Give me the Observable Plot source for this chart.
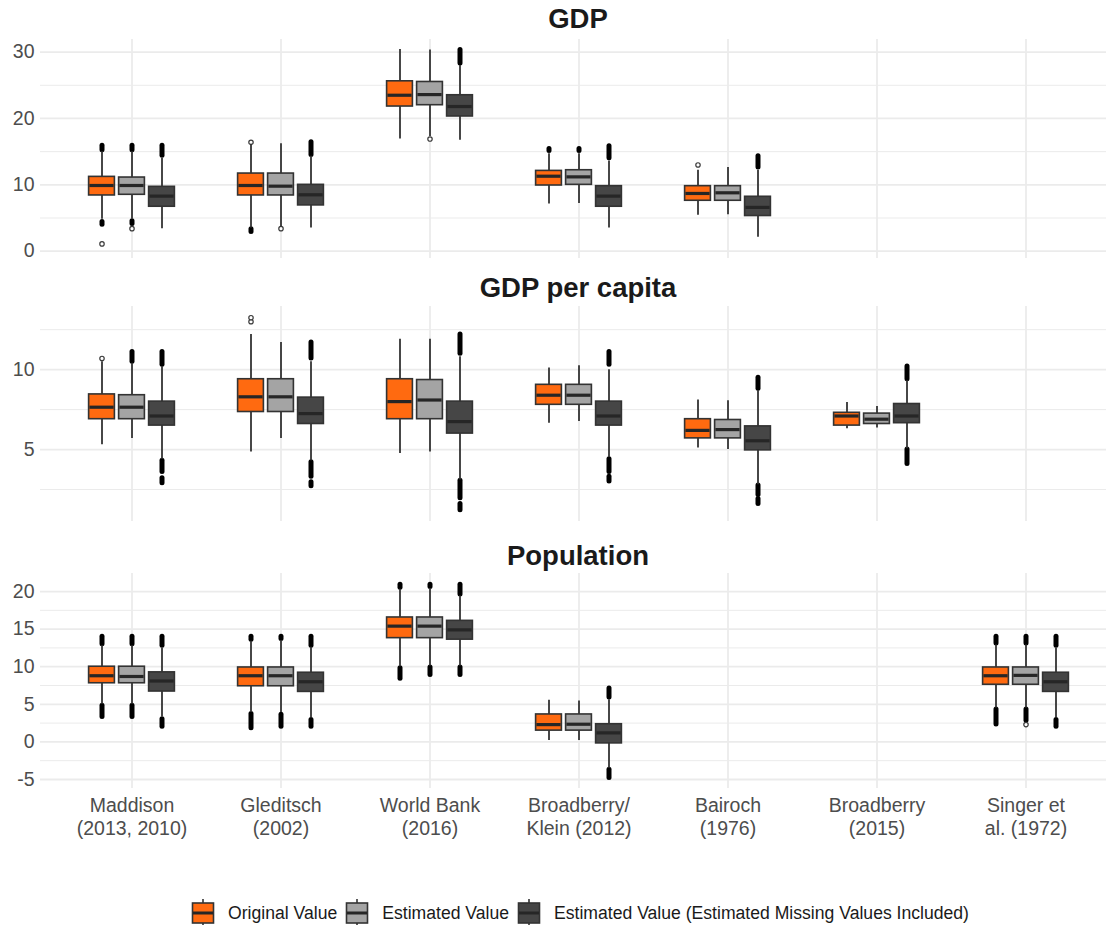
<!DOCTYPE html>
<html>
<head>
<meta charset="utf-8">
<script src="https://cdn.jsdelivr.net/npm/d3@7"></script>
<script src="https://cdn.jsdelivr.net/npm/@observablehq/plot@0.6"></script>
<style>
  html, body { margin: 0; padding: 0; background: #fff; }
  #root { position: relative; width: 1106px; height: 925px; background: #fff; font-family: "Liberation Sans", Arial, sans-serif; overflow: hidden; }
  .ttl { position: absolute; left: 41px; width: 1074px; text-align: center; font-weight: bold; font-size: 27.5px; line-height: 27.5px; color: #1a1a1a; }
  .pnl { position: absolute; left: 0; }
  #legend { position: absolute; top: 899px; left: 0; width: 1106px; display: flex; justify-content: center; align-items: center; padding-left: 62px; box-sizing: border-box; font-size: 17.6px; color: #1a1a1a; }
  .li { display: flex; align-items: center; margin-right: 8px; }
  .li span { margin-left: 13px; }
</style>
</head>
<body>
<div id="root"></div>
<script>
// ---------- data ----------
const sources = ["Maddison\n(2013, 2010)", "Gleditsch\n(2002)", "World Bank\n(2016)", "Broadberry/\nKlein (2012)", "Bairoch\n(1976)", "Broadberry\n(2015)", "Singer et\nal. (1972)"];
const series = ["Original Value", "Estimated Value", "Estimated Value (Estimated Missing Values Included)"];
const seriesColors = ["#FF6A10", "#A4A4A4", "#464646"];
const panelTitles = ["GDP", "GDP per capita", "Population"];

// [source, series, lower whisker, q1, median, q3, upper whisker]
const gdpBoxes = [
  [0,0, 4.8, 8.4, 9.9, 11.2, 15.0],
  [0,1, 4.8, 8.5, 9.9, 11.1, 15.0],
  [0,2, 3.4, 6.7, 8.3, 9.7, 14.0],
  [1,0, 3.5, 8.4, 9.9, 11.7, 16.1],
  [1,1, 3.6, 8.4, 9.8, 11.7, 16.2],
  [1,2, 3.5, 6.9, 8.5, 10.0, 14.3],
  [2,0, 16.9, 21.8, 23.5, 25.6, 30.4],
  [2,1, 17.3, 22.0, 23.6, 25.5, 30.3],
  [2,2, 16.7, 20.3, 21.8, 23.5, 28.0],
  [3,0, 7.1, 9.9, 11.3, 12.1, 14.7],
  [3,1, 7.2, 10.0, 11.2, 12.2, 14.7],
  [3,2, 3.5, 6.7, 8.3, 9.8, 13.6],
  [4,0, 5.4, 7.6, 8.7, 9.8, 12.2],
  [4,1, 5.5, 7.6, 8.8, 9.8, 12.6],
  [4,2, 2.1, 5.3, 6.6, 8.2, 12.2]
];
// dense runs of outliers: [source, series, from, to]
const gdpOutlierRuns = [
  [0,0,15.2,15.9],[0,0,4.0,4.4],[0,1,15.2,15.9],[0,1,4.1,4.5],[0,2,14.4,15.9],
  [1,0,2.9,3.3],[1,2,14.5,16.4],[2,2,28.3,30.3],
  [3,0,15.1,15.4],[3,1,15.1,15.4],[3,2,14.0,15.8],[4,2,12.6,14.3]
];
// single outliers: [source, series, value]
const gdpOutliers = [[0,0,1.1],[0,1,3.4],[1,0,16.4],[1,1,3.4],[2,1,16.9],[4,0,13.0]];

const gdppcBoxes = [
  [0,0, 5.3, 6.9, 7.65, 8.45, 10.5],
  [0,1, 5.7, 6.9, 7.65, 8.4, 10.4],
  [0,2, 4.4, 6.5, 7.1, 8.0, 10.2],
  [1,0, 4.85, 7.35, 8.3, 9.4, 12.2],
  [1,1, 5.7, 7.35, 8.3, 9.4, 11.7],
  [1,2, 4.3, 6.6, 7.25, 8.25, 10.5],
  [2,0, 4.75, 6.9, 8.0, 9.4, 11.9],
  [2,1, 4.85, 6.9, 8.1, 9.35, 11.9],
  [2,2, 3.1, 6.0, 6.75, 8.0, 10.8],
  [3,0, 6.65, 7.8, 8.4, 9.05, 10.1],
  [3,1, 6.75, 7.8, 8.4, 9.05, 10.25],
  [3,2, 4.5, 6.5, 7.1, 8.0, 10.0],
  [4,0, 5.1, 5.7, 6.2, 6.9, 8.1],
  [4,1, 5.0, 5.7, 6.25, 6.85, 8.05],
  [4,2, 2.8, 4.95, 5.55, 6.45, 8.7],
  [5,0, 6.3, 6.5, 7.1, 7.3, 7.95],
  [5,1, 6.35, 6.6, 6.9, 7.25, 7.7],
  [5,2, 5.05, 6.65, 7.1, 7.85, 9.3]
];
const gdppcOutlierRuns = [
  [0,1,10.5,11.1],[0,2,10.3,11.1],[0,2,3.6,4.3],[0,2,2.9,3.2],
  [1,2,10.7,11.7],[1,2,3.3,4.2],[1,2,2.7,2.95],
  [2,2,11.0,12.2],[2,2,1.95,3.05],[2,2,1.2,1.6],
  [3,2,10.3,11.1],[3,2,3.6,4.4],[3,2,3.0,3.3],
  [4,2,8.8,9.5],[4,2,2.15,2.75],[4,2,1.6,1.9],
  [5,2,9.4,10.2],[5,2,4.1,5.0]
];
const gdppcOutliers = [[0,0,10.7],[1,0,13.0],[1,0,13.25]];

const popBoxes = [
  [0,0, 5.0, 7.8, 8.8, 10.0, 12.8],
  [0,1, 5.0, 7.8, 8.7, 10.0, 12.8],
  [0,2, 3.3, 6.7, 8.1, 9.25, 12.5],
  [1,0, 3.9, 7.4, 8.8, 9.9, 13.4],
  [1,1, 3.9, 7.4, 8.8, 9.9, 13.5],
  [1,2, 3.2, 6.65, 8.0, 9.2, 12.6],
  [2,0, 10.0, 13.8, 15.4, 16.55, 20.3],
  [2,1, 10.1, 13.8, 15.4, 16.55, 20.4],
  [2,2, 10.1, 13.6, 14.9, 16.1, 19.4],
  [3,0, 0.2, 1.5, 2.3, 3.65, 5.55],
  [3,1, 0.2, 1.5, 2.35, 3.65, 5.45],
  [3,2, -3.5, -0.2, 1.2, 2.35, 5.6],
  [6,0, 4.5, 7.6, 8.8, 9.9, 12.9],
  [6,1, 4.5, 7.6, 8.85, 9.9, 12.9],
  [6,2, 3.2, 6.65, 8.0, 9.2, 12.5]
];
const popOutlierRuns = [
  [0,0,13.0,14.0],[0,0,3.3,4.8],[0,1,13.0,14.0],[0,1,3.3,4.8],[0,2,12.8,14.0],[0,2,2.0,3.0],
  [1,0,13.6,14.0],[1,0,1.8,3.7],[1,1,13.7,14.0],[1,1,2.0,3.6],[1,2,12.8,14.0],[1,2,2.0,2.9],
  [2,0,20.5,20.9],[2,0,8.4,9.8],[2,1,20.6,20.9],[2,1,8.9,9.9],[2,2,19.6,20.9],[2,2,8.9,9.9],
  [3,2,5.9,7.1],[3,2,-4.8,-3.7],
  [6,0,13.1,14.0],[6,0,2.3,4.3],[6,1,13.1,14.0],[6,1,2.8,4.3],[6,2,12.8,14.0],[6,2,2.0,2.9]
];
const popOutliers = [[6,1,2.3]];

const gdpTicks = [0, 10, 20, 30], gdpMinor = [5, 15, 25];
const gdppcTicks = [5, 10], gdppcMinor = [2.5, 7.5, 12.5];
const popTicks = [-5, 0, 5, 10, 15, 20], popMinor = [-2.5, 2.5, 7.5, 12.5, 17.5];

// ---------- drawing ----------
const FONT = "'Liberation Sans', Arial, sans-serif";
const dodge = [-30, 0, 30];
const boxInset = 61.6;

function panel({boxes, runs, singles, domain, ticks, minor, top, height, xLabels}) {
  const B = boxes.map(([s, k, lo, q1, med, q3, hi]) => ({source: sources[s], k, lo, q1, med, q3, hi}));
  const R = runs.map(([s, k, a, b]) => ({source: sources[s], k, a, b}));
  const S = singles.map(([s, k, v]) => ({source: sources[s], k, v}));
  const marks = [
    Plot.ruleY(minor, {stroke: "#ebebeb", strokeWidth: 1}),
    Plot.ruleY(ticks, {stroke: "#ebebeb", strokeWidth: 1.8}),
    Plot.ruleX(sources, {x: d => d, stroke: "#ebebeb", strokeWidth: 1.8})
  ];
  series.forEach((name, k) => {
    const b = B.filter(d => d.k === k), r = R.filter(d => d.k === k), s = S.filter(d => d.k === k);
    marks.push(
      Plot.ruleX(r, {x: "source", y1: "a", y2: "b", stroke: "#000", strokeWidth: 5, strokeLinecap: "round", dx: dodge[k]}),
      Plot.dot(s, {x: "source", y: "v", r: 2.2, stroke: "#3a3a3a", strokeWidth: 1.2, fill: "#fff", dx: dodge[k]}),
      Plot.ruleX(b, {x: "source", y1: "lo", y2: "hi", stroke: "#333", strokeWidth: 1.8, dx: dodge[k]}),
      Plot.barY(b, {x: "source", y1: "q1", y2: "q3", fill: seriesColors[k], stroke: "#333", strokeWidth: 1.6, insetLeft: boxInset, insetRight: boxInset, dx: dodge[k]}),
      Plot.tickY(b, {x: "source", y: "med", stroke: "#262626", strokeWidth: 3.2, insetLeft: boxInset + 0.8, insetRight: boxInset + 0.8, dx: dodge[k]})
    );
  });
  if (xLabels) {
    marks.push(Plot.text(sources, {x: d => d, text: d => d, frameAnchor: "bottom", lineAnchor: "top", dy: 7, fontSize: 19.5, fill: "#4d4d4d", lineHeight: 1.18}));
  }
  const mb = xLabels ? 70 : 0;
  const svg = Plot.plot({
    width: 1106, height: height + mb,
    marginLeft: 40, marginRight: 0, marginTop: 0, marginBottom: mb,
    style: {fontFamily: FONT, fontSize: "19.5px", color: "#4d4d4d", background: "transparent", overflow: "visible"},
    x: {type: "band", domain: sources, range: [41.5, 1115.5], paddingInner: 0, paddingOuter: 0.1, axis: null},
    y: {domain, ticks, tickSize: 0, tickPadding: 6, tickFormat: d => String(d), label: null},
    marks
  });
  const wrap = document.createElement("div");
  wrap.className = "pnl";
  wrap.style.top = top + "px";
  wrap.appendChild(svg);
  return wrap;
}

const root = document.getElementById("root");
const titleTops = [5, 274, 542];
panelTitles.forEach((t, i) => {
  const d = document.createElement("div");
  d.className = "ttl";
  d.style.top = titleTops[i] + "px";
  d.textContent = t;
  root.appendChild(d);
});

root.appendChild(panel({boxes: gdpBoxes, runs: gdpOutlierRuns, singles: gdpOutliers, domain: [-1.1, 31.9], ticks: gdpTicks, minor: gdpMinor, top: 39, height: 219}));
root.appendChild(panel({boxes: gdppcBoxes, runs: gdppcOutlierRuns, singles: gdppcOutliers, domain: [0.5, 13.95], ticks: gdppcTicks, minor: gdppcMinor, top: 306, height: 215}));
root.appendChild(panel({boxes: popBoxes, runs: popOutlierRuns, singles: popOutliers, domain: [-6.2, 22.4], ticks: popTicks, minor: popMinor, top: 573, height: 215, xLabels: true}));

// legend
const legend = document.createElement("div");
legend.id = "legend";
series.forEach((name, k) => {
  const item = document.createElement("div");
  item.className = "li";
  const ns = "http://www.w3.org/2000/svg";
  const svg = document.createElementNS(ns, "svg");
  svg.setAttribute("width", 24); svg.setAttribute("height", 28);
  svg.innerHTML = `<line x1="12" x2="12" y1="0" y2="28" stroke="#333" stroke-width="1.6"/>
    <rect x="1.5" y="4" width="21" height="20" fill="${seriesColors[k]}" stroke="#333" stroke-width="1.6"/>
    <line x1="2" x2="22" y1="14" y2="14" stroke="#262626" stroke-width="3"/>`;
  const lab = document.createElement("span");
  lab.textContent = name;
  item.appendChild(svg); item.appendChild(lab);
  legend.appendChild(item);
});
root.appendChild(legend);
</script>
</body>
</html>
